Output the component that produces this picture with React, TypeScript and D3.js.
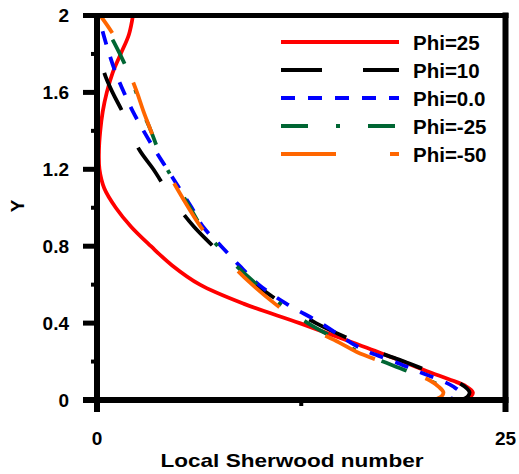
import React from "react";
import * as d3 from "d3";

const Y_VALUES = [2, 1.9, 1.8, 1.7, 1.6, 1.5, 1.4, 1.3, 1.2, 1.1, 1.0, 0.9, 0.8, 0.7, 0.6, 0.5, 0.4, 0.3, 0.25, 0.2, 0.15, 0.1, 0.07, 0.04, 0.02, 0];

const PHI_25 = [2.2, 1.95, 1.45, 0.95, 0.6, 0.35, 0.2, 0.12, 0.15, 0.45, 1.15, 2.1, 3.3, 4.6, 6.3, 9.0, 12.4, 15.6, 17.2, 18.7, 20.2, 21.8, 22.6, 23.0, 22.9, 22.4];
const PHI_10 = [0.0, 0.05, 0.2, 0.45, 0.95, 1.55, 2.05, 2.6, 3.45, 4.2, 5.0, 5.95, 7.1, 8.2, 9.7, 11.4, 13.4, 15.9, 17.2, 18.8, 20.3, 21.9, 22.5, 22.8, 22.7, 22.3];
const PHI_0 = [0.1, 0.4, 0.75, 1.15, 1.65, 2.2, 2.85, 3.55, 4.3, 5.05, 5.8, 6.5, 7.6, 8.7, 9.9, 11.6, 13.7, 15.5, 16.6, 18.2, 19.6, 21.1, 21.8, 22.2, 22.0, 21.5];
const PHI_M25 = [0.2, 0.8, 1.4, 1.95, 2.4, 2.8, 3.3, 3.75, 4.3, 5.0, 5.7, 6.4, 7.4, 8.5, 9.8, 11.2, 12.9, 15.0, 16.0, 17.5, 19.0, 20.4, 21.1, 21.5, 21.4, 21.0];
const PHI_M50 = [0.2, 1.0, 1.55, 2.0, 2.45, 2.85, 3.3, 3.75, 4.25, 4.9, 5.6, 6.35, 7.3, 8.3, 9.5, 10.9, 12.5, 14.8, 15.9, 17.4, 19.0, 20.4, 20.9, 21.2, 21.1, 20.6];

const SERIES_NAMES = ["Phi=25", "Phi=10", "Phi=0.0", "Phi=-25", "Phi=-50"];
const SERIES_VALUES = [PHI_25, PHI_10, PHI_0, PHI_M25, PHI_M50];
const SERIES_COLORS = ["#ff0000", "#000000", "#0000ff", "#006633", "#ff6600"];
const SERIES_DASHES = ["none", "41,41", "14,13", "27,28,4,28", "55,54"];
const SERIES_DASH_OFFSETS = [0, 24, 11, 60, 34];

const Y_MAJOR = [0, 0.4, 0.8, 1.2, 1.6, 2];
const Y_MAJOR_LABELS = ["0", "0.4", "0.8", "1.2", "1.6", "2"];
const Y_MINOR = [0.2, 0.6, 1.0, 1.4, 1.8];
const X_MAJOR = [0, 25];
const X_MAJOR_LABELS = ["0", "25"];
const X_MINOR = [12.5];

const FONT = "'Liberation Sans', Arial, sans-serif";

export default function App() {
  const x = d3.scaleLinear().domain([0, 25]).range([97, 505.5]);
  const y = d3.scaleLinear().domain([0, 2]).range([400, 15.5]);

  const line = d3
    .line<[number, number]>()
    .x((d) => x(d[0]))
    .y((d) => y(d[1]))
    .curve(d3.curveCatmullRom.alpha(0.5));

  const legendX0 = 281;
  const legendX1 = 399;
  const legendY0 = 42;
  const legendStep = 28;

  return (
    <svg
      width={519}
      height={474}
      style={{ position: "absolute", left: 0, top: 0, background: "#fff" }}
    >
      <rect x={0} y={0} width={519} height={474} fill="#fff" />
      <defs>
        <clipPath id="plotclip">
          <rect x={97} y={15.5} width={408.5} height={384.5} />
        </clipPath>
      </defs>

      {/* curves */}
      <g clipPath="url(#plotclip)">
        {SERIES_VALUES.map((vals, i) => (
          <path
            key={SERIES_NAMES[i]}
            d={line(vals.map((v, j) => [v, Y_VALUES[j]] as [number, number])) || ""}
            fill="none"
            stroke={SERIES_COLORS[i]}
            strokeWidth={3.8}
            strokeDasharray={SERIES_DASHES[i]}
            strokeDashoffset={SERIES_DASH_OFFSETS[i]}
          />
        ))}
      </g>

      {/* frame */}
      <g stroke="#000" strokeLinecap="butt">
        <line x1={x(0)} x2={x(0)} y1={13} y2={412} strokeWidth={6} />
        <line x1={x(25)} x2={x(25)} y1={12.5} y2={412} strokeWidth={6} />
        <line x1={83} x2={508.5} y1={y(2)} y2={y(2)} strokeWidth={5} />
        <line x1={83} x2={508.5} y1={y(0)} y2={y(0)} strokeWidth={6} />
        {Y_MAJOR.map((t) => (
          <line key={"ym" + t} x1={83} x2={97} y1={y(t)} y2={y(t)} strokeWidth={5} />
        ))}
        {Y_MINOR.map((t) => (
          <line key={"yn" + t} x1={91} x2={97} y1={y(t)} y2={y(t)} strokeWidth={4} />
        ))}
        {X_MINOR.map((t) => (
          <line key={"xn" + t} x1={x(t)} x2={x(t)} y1={400} y2={406} strokeWidth={4} />
        ))}
      </g>

      {/* tick labels */}
      <g fontFamily={FONT} fontWeight="bold" fontSize={19} fill="#000">
        {Y_MAJOR.map((t, i) => (
          <text key={"yl" + t} x={69} y={y(t)} dy="0.36em" textAnchor="end">
            {Y_MAJOR_LABELS[i]}
          </text>
        ))}
        {X_MAJOR.map((t, i) => (
          <text key={"xl" + t} x={x(t)} y={445} textAnchor="middle">
            {X_MAJOR_LABELS[i]}
          </text>
        ))}
        <text x={292} y={467} textAnchor="middle" textLength={263} lengthAdjust="spacingAndGlyphs">
          Local Sherwood number
        </text>
        <text transform="translate(24,206) rotate(-90)" textAnchor="middle">
          Y
        </text>
      </g>

      {/* legend */}
      <g>
        {SERIES_NAMES.map((name, i) => (
          <g key={"lg" + name}>
            <line
              x1={legendX0}
              x2={legendX1}
              y1={legendY0 + i * legendStep}
              y2={legendY0 + i * legendStep}
              stroke={SERIES_COLORS[i]}
              strokeWidth={4}
              strokeDasharray={SERIES_DASHES[i]}
            />
            <text
              x={413}
              y={legendY0 + i * legendStep + 8}
              fontFamily={FONT}
              fontWeight="bold"
              fontSize={20.5}
              fill="#000"
            >
              {name}
            </text>
          </g>
        ))}
      </g>
    </svg>
  );
}
